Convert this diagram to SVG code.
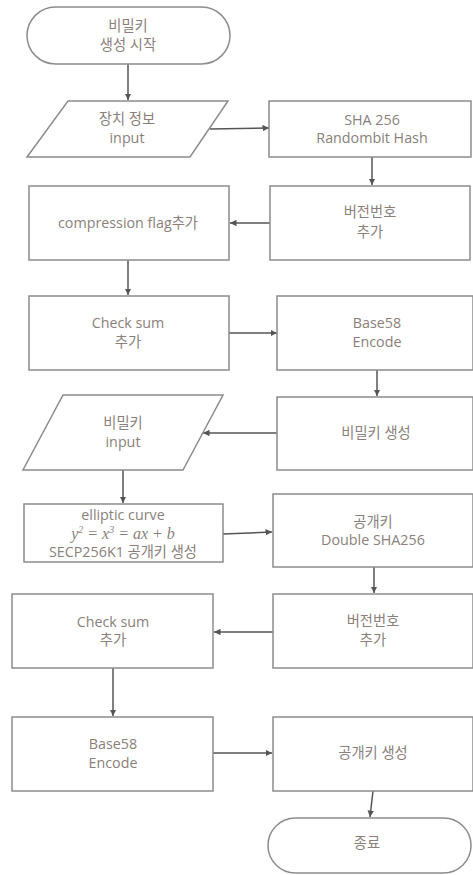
<svg xmlns="http://www.w3.org/2000/svg" width="473" height="875" viewBox="0 0 473 875">
<style>
.b{fill:#fff;stroke:#8c8c8c;stroke-width:1.5}
.t{font-family:"Open Sans","Noto Sans CJK KR",sans-serif;font-size:14.3px;fill:#8a7f7b;text-anchor:middle}
.m{font-family:"Liberation Serif",serif;font-style:italic;font-size:16px;fill:#8a7f7b;text-anchor:middle}
.c{stroke:#555;stroke-width:1.5;fill:none;marker-end:url(#a)}
</style>
<defs>
<marker id="a" viewBox="0 0 10 10" refX="10" refY="5" markerWidth="6.5" markerHeight="6.5" orient="auto" markerUnits="userSpaceOnUse">
<path d="M0,0L10,5L0,10z" fill="#555"/>
</marker>
</defs>
<rect width="473" height="875" fill="#fff"/>
<g id="connectors">
<path class="c" d="M128,64V100"/>
<path class="c" d="M210,129L269,128"/>
<path class="c" d="M372,157V185"/>
<path class="c" d="M270,223H230"/>
<path class="c" d="M128,260V295"/>
<path class="c" d="M229,333H277"/>
<path class="c" d="M377,370V396"/>
<path class="c" d="M277,433H203"/>
<path class="c" d="M123,470V503"/>
<path class="c" d="M223,534L272,532"/>
<path class="c" d="M374,567V593"/>
<path class="c" d="M273,632H214"/>
<path class="c" d="M113,668V716"/>
<path class="c" d="M213,753H272"/>
<path class="c" d="M373,791L370,817"/>
</g>
<g id="start">
<rect class="b" x="27" y="7" width="203" height="57" rx="28.5"/>
<text class="t" x="128" y="31">비밀키</text>
<text class="t" x="128" y="50">생성 시작</text>
</g>
<g id="device-input">
<polygon class="b" points="68,101 228,101 190,157 27,157"/>
<text class="t" x="127" y="124">장치 정보</text>
<text class="t" x="127" y="143">input</text>
</g>
<g id="sha256">
<rect class="b" x="269" y="101" width="202" height="56"/>
<text class="t" x="372" y="125">SHA 256</text>
<text class="t" x="372" y="143">Randombit Hash</text>
</g>
<g id="version1">
<rect class="b" x="270" y="186" width="200" height="74"/>
<text class="t" x="370" y="217">버전번호</text>
<text class="t" x="370" y="237">추가</text>
</g>
<g id="compression">
<rect class="b" x="29" y="186" width="200" height="74"/>
<text class="t" x="128" y="228">compression flag추가</text>
</g>
<g id="checksum1">
<rect class="b" x="29" y="296" width="200" height="74"/>
<text class="t" x="128" y="328">Check sum</text>
<text class="t" x="128" y="347">추가</text>
</g>
<g id="base58-1">
<rect class="b" x="277" y="296" width="196" height="74"/>
<text class="t" x="377" y="328">Base58</text>
<text class="t" x="377" y="347">Encode</text>
</g>
<g id="privkey-gen">
<rect class="b" x="277" y="397" width="196" height="73"/>
<text class="t" x="376" y="438">비밀키 생성</text>
</g>
<g id="privkey-input">
<polygon class="b" points="63,395 223,395 183,470 23,470"/>
<text class="t" x="123" y="428">비밀키</text>
<text class="t" x="123" y="447">input</text>
</g>
<g id="elliptic">
<rect class="b" x="24" y="504" width="199" height="58"/>
<text class="t" x="123" y="520">elliptic curve</text>
<text class="m" x="123" y="539">y<tspan font-size="10" dy="-6">2</tspan><tspan dy="6"> = x</tspan><tspan font-size="10" dy="-6">3</tspan><tspan dy="6"> = ax + b</tspan></text>
<text class="t" x="123" y="557">SECP256K1 공개키 생성</text>
</g>
<g id="double-sha">
<rect class="b" x="273" y="494" width="200" height="73"/>
<text class="t" x="373" y="527">공개키</text>
<text class="t" x="373" y="545">Double SHA256</text>
</g>
<g id="version2">
<rect class="b" x="273" y="594" width="200" height="74"/>
<text class="t" x="373" y="626">버전번호</text>
<text class="t" x="373" y="645">추가</text>
</g>
<g id="checksum2">
<rect class="b" x="12" y="594" width="201" height="74"/>
<text class="t" x="113" y="627">Check sum</text>
<text class="t" x="113" y="645">추가</text>
</g>
<g id="base58-2">
<rect class="b" x="12" y="717" width="201" height="74"/>
<text class="t" x="113" y="749">Base58</text>
<text class="t" x="113" y="768">Encode</text>
</g>
<g id="pubkey-gen">
<rect class="b" x="273" y="717" width="200" height="74"/>
<text class="t" x="373" y="758">공개키 생성</text>
</g>
<g id="end">
<rect class="b" x="268" y="818" width="203" height="55" rx="27.5"/>
<text class="t" x="367" y="848">종료</text>
</g>
</svg>
